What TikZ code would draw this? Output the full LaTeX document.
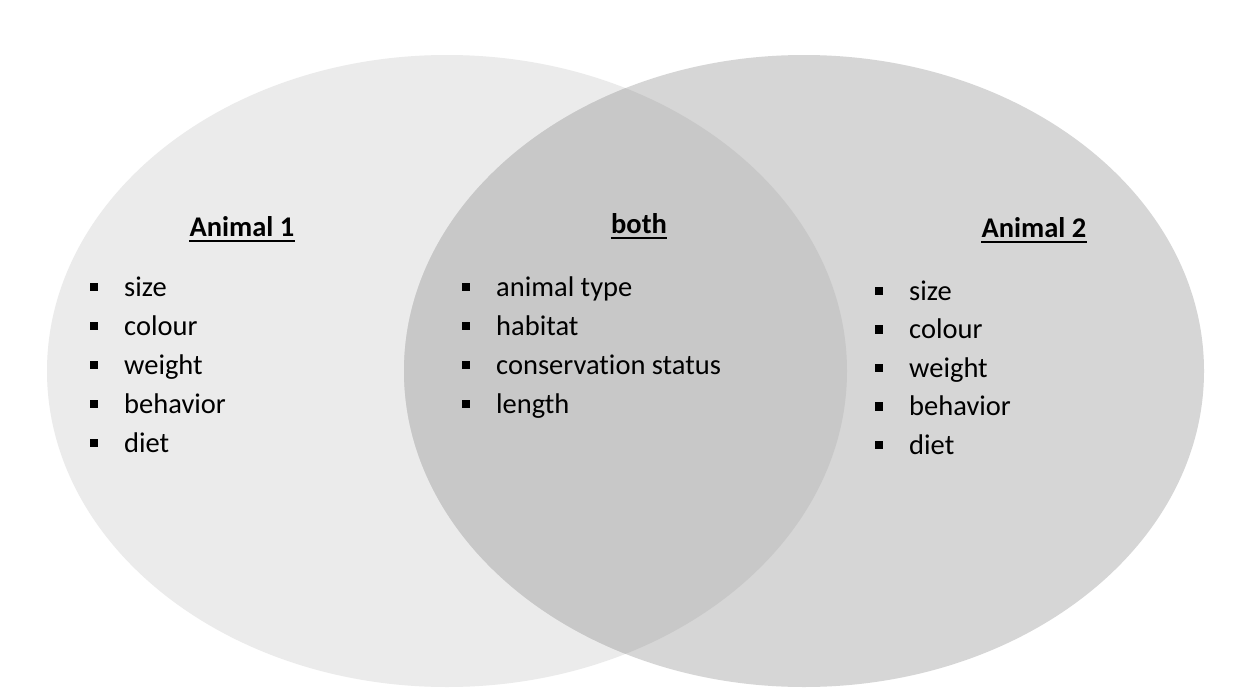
\documentclass[tikz,border=0pt]{standalone}
\usepackage{fontspec}
\setmainfont[Ligatures=NoCommon]{Carlito}
\definecolor{leftfill}{HTML}{EBEBEB}
\definecolor{rightfill}{HTML}{D6D6D6}
\definecolor{midfill}{HTML}{C8C8C8}
\tikzset{
  item/.style={anchor=base west, inner sep=0pt, font=\fontsize{28.5}{34}\selectfont},
  head/.style={anchor=base, inner sep=0pt, font=\fontsize{28.5}{34}\selectfont\bfseries},
  bul/.style={fill=black, minimum size=8.5pt, inner sep=0pt, draw=none, rectangle},
  uline/.style={line width=2pt}
}
\begin{document}
\begin{tikzpicture}[x=1pt,y=-1pt]
\useasboundingbox (0,0) rectangle (1258,688);
\fill[white] (0,0) rectangle (1258,688);
% ellipses
\fill[leftfill] (447,371) ellipse [x radius=400, y radius=316];
\fill[rightfill] (804,371) ellipse [x radius=400, y radius=316];
\begin{scope}
  \clip (447,371) ellipse [x radius=400, y radius=316];
  \fill[midfill] (804,371) ellipse [x radius=400, y radius=316];
\end{scope}
% headings
\node[head] (h1) at (242,236) {Animal 1};
\node[head] (h2) at (639,233) {both};
\node[head] (h3) at (1034,237) {Animal 2};
\foreach \h in {h1,h2,h3}{
  \draw[uline] ([yshift=-5pt]\h.base west) -- ([yshift=-5pt]\h.base east);
}
% left list
\foreach \t [count=\i] in {size,colour,weight,behavior,diet}{
  \node[item] (l\i) at (124,{296+39*(\i-1)}) {\t};
  \node[bul] (lb\i) at (94,{287+39*(\i-1)}) {};
}
% middle list
\foreach \t [count=\i] in {animal type,habitat,conservation status,length}{
  \node[item] (m\i) at (496,{296+39*(\i-1)}) {\t};
  \node[bul] (mb\i) at (466,{287+39*(\i-1)}) {};
}
% right list
\foreach \t [count=\i] in {size,colour,weight,behavior,diet}{
  \node[item] (r\i) at (909,{300+38.5*(\i-1)}) {\t};
  \node[bul] (rb\i) at (879,{291+38.5*(\i-1)}) {};
}
\end{tikzpicture}
\end{document}
